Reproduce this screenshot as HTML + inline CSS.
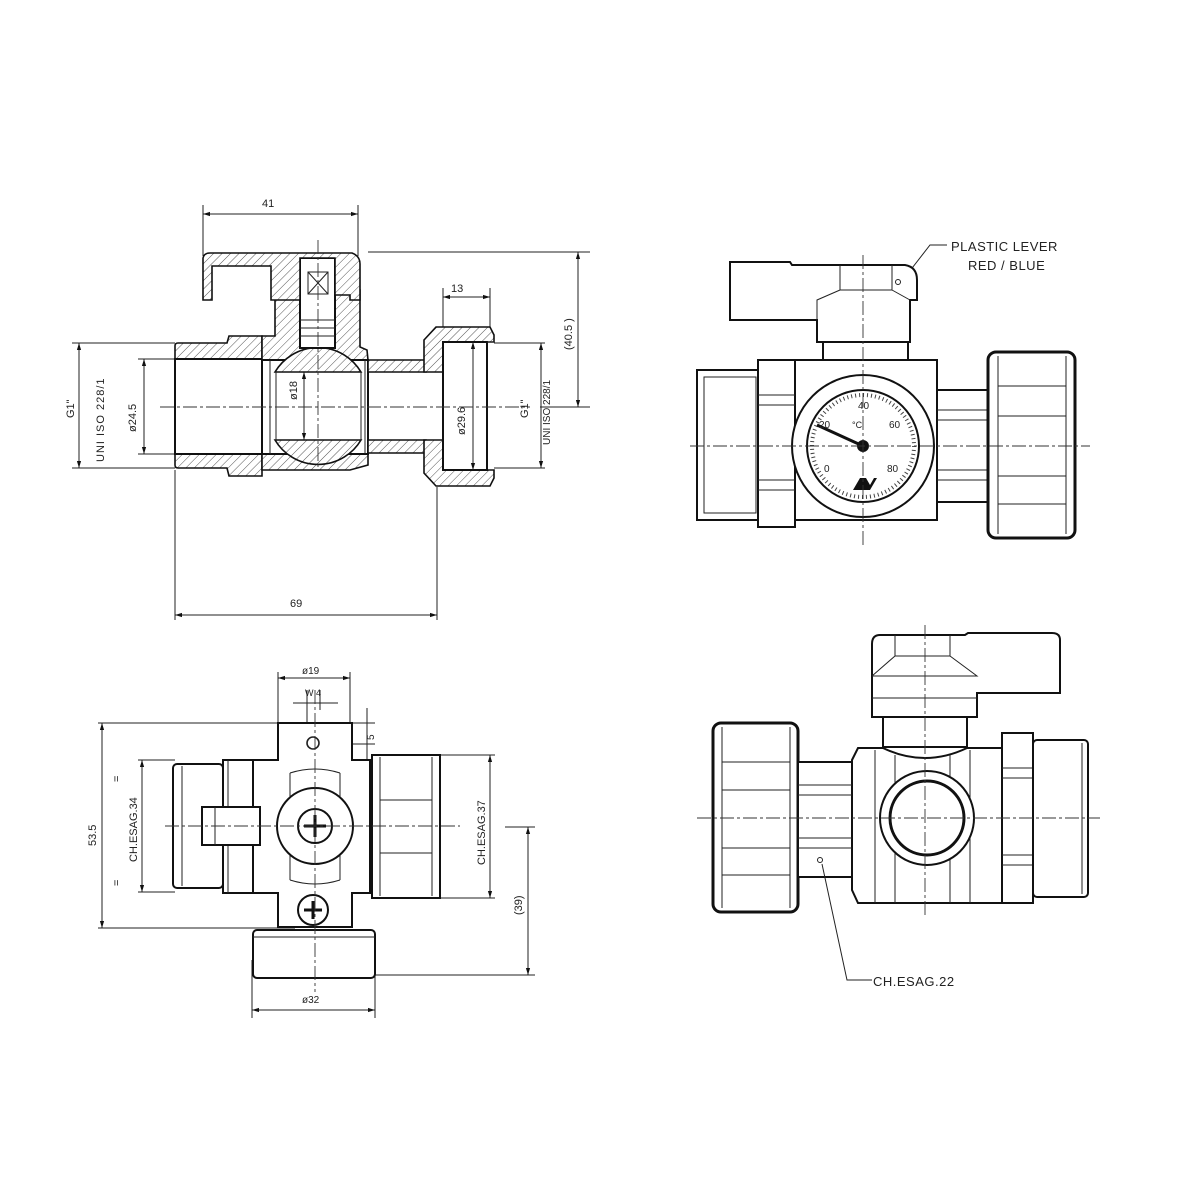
<!DOCTYPE html>
<html><head><meta charset="utf-8"><style>
html,body{margin:0;padding:0;background:#fff;}
svg{display:block}
text{font-family:"Liberation Sans",sans-serif;font-size:11px;fill:#222}
.o{fill:#fff;stroke:#111;stroke-width:2}
.t{fill:none;stroke:#222;stroke-width:1}
.c{fill:none;stroke:#333;stroke-width:0.9;stroke-dasharray:14 3 3 3}
.h{fill:url(#hat);stroke:#111;stroke-width:1.6}
</style></head><body>
<svg width="1198" height="1198" viewBox="0 0 1198 1198" xmlns="http://www.w3.org/2000/svg">
<defs>
<pattern id="hat" width="6" height="6" patternUnits="userSpaceOnUse" patternTransform="rotate(45)">
<rect width="6" height="6" fill="#fff"/><line x1="0" y1="0" x2="0" y2="6" stroke="#555" stroke-width="1"/></pattern>
<marker id="a" viewBox="0 0 10 10" refX="10" refY="5" markerWidth="7" markerHeight="7" orient="auto-start-reverse"><path d="M0,2 L10,5 L0,8z" fill="#111"/></marker>
</defs>

<!-- ================= VIEW 1 (section) ================= -->
<g>
<!-- dims -->
<line class="t" x1="203" y1="205" x2="203" y2="256"/><line class="t" x1="358" y1="205" x2="358" y2="256"/>
<line class="t" x1="203" y1="214" x2="358" y2="214" marker-start="url(#a)" marker-end="url(#a)"/>
<text x="262" y="207">41</text>
<line class="t" x1="368" y1="252" x2="590" y2="252"/><line class="t" x1="540" y1="407" x2="590" y2="407"/>
<line class="t" x1="578" y1="252" x2="578" y2="407" marker-start="url(#a)" marker-end="url(#a)"/>
<text transform="translate(572,350) rotate(-90)">(40.5  )</text>
<line class="t" x1="443" y1="288" x2="443" y2="340"/><line class="t" x1="490" y1="288" x2="490" y2="340"/>
<line class="t" x1="443" y1="297" x2="490" y2="297" marker-start="url(#a)" marker-end="url(#a)"/>
<text x="451" y="292">13</text>
<line class="t" x1="72" y1="343" x2="175" y2="343"/><line class="t" x1="72" y1="468" x2="175" y2="468"/>
<line class="t" x1="79" y1="343" x2="79" y2="468" marker-start="url(#a)" marker-end="url(#a)"/>
<text transform="translate(74,418) rotate(-90)">G1"</text>
<text transform="translate(104,462) rotate(-90)" style="letter-spacing:1px">UNI  ISO  228/1</text>
<line class="t" x1="138" y1="359" x2="175" y2="359"/><line class="t" x1="138" y1="454" x2="175" y2="454"/>
<line class="t" x1="144" y1="359" x2="144" y2="454" marker-start="url(#a)" marker-end="url(#a)"/>
<text transform="translate(136,432) rotate(-90)">ø24.5</text>
<line class="t" x1="494" y1="343" x2="545" y2="343"/><line class="t" x1="494" y1="468" x2="545" y2="468"/>
<line class="t" x1="541" y1="343" x2="541" y2="468" marker-start="url(#a)" marker-end="url(#a)"/>
<text transform="translate(528,418) rotate(-90)">G1"</text>
<text transform="translate(550,445) rotate(-90)" style="font-size:10px">UNI ISO 228/1</text>
<line class="t" x1="175" y1="470" x2="175" y2="620"/><line class="t" x1="437" y1="487" x2="437" y2="620"/>
<line class="t" x1="175" y1="615" x2="437" y2="615" marker-start="url(#a)" marker-end="url(#a)"/>
<text x="290" y="607">69</text>

<!-- left fitting -->
<path class="h" d="M175,346 Q175,343 178,343 L227,343 L229,336 L262,336 L262,359 L175,359Z"/>
<path class="h" d="M175,454 L262,454 L262,476 L229,476 L227,468 L178,468 Q175,468 175,465Z"/>
<rect class="o" x="175" y="359" width="87" height="95" style="fill:#fff"/>
<!-- body center -->
<path class="h" d="M262,336 L275,336 L275,290 L300,290 L300,347 L335,347 L335,290 L360,290 L360,347 L367,350 L368,360 L262,360Z"/>
<path class="h" d="M262,454 L368,454 L368,465 L350,470 L262,470Z"/>
<rect class="o" x="262" y="360" width="106" height="94"/>
<line class="t" x1="270" y1="360" x2="270" y2="454"/><line class="t" x1="365" y1="360" x2="365" y2="454"/>
<path class="h" d="M275,372 A50,50 0 0 1 361,372 Z"/>
<path class="h" d="M275,440 A50,50 0 0 0 361,440 Z"/>
<line class="t" x1="276" y1="372" x2="276" y2="440"/><line class="t" x1="361" y1="372" x2="361" y2="440"/>
<!-- stem -->
<rect class="o" x="300" y="258" width="35" height="90"/>
<line class="t" x1="300" y1="320" x2="335" y2="320"/><line class="t" x1="300" y1="328" x2="335" y2="328"/><line class="t" x1="300" y1="336" x2="335" y2="336"/>
<rect class="t" x="308" y="272" width="20" height="22"/><line class="t" x1="308" y1="272" x2="328" y2="294"/><line class="t" x1="328" y1="272" x2="308" y2="294"/>
<!-- lever -->
<path class="h" d="M203,300 L203,258 Q204,253 210,253 L352,253 Q360,256 360,264 L360,300 L350,300 L350,295 L335,295 L335,258 L300,258 L300,300 L271,300 L271,266 L212,266 L212,300Z"/>
<!-- right pipe -->
<path class="h" d="M368,360 L426,360 L426,372 L368,372Z"/>
<path class="h" d="M368,440 L426,440 L426,453 L368,453Z"/>
<!-- right nut -->
<path class="h" d="M424,340 L436,327 L490,327 L494,335 L494,342 L443,342 L443,372 L424,372Z"/>
<path class="h" d="M424,440 L443,440 L443,470 L494,470 L494,478 L490,486 L436,486 L424,473Z"/>
<rect class="o" x="443" y="342" width="44" height="128"/>
<line class="t" x1="487" y1="342" x2="494" y2="342"/>
<line class="t" x1="473" y1="342" x2="473" y2="470" marker-start="url(#a)" marker-end="url(#a)"/>
<text transform="translate(465,435) rotate(-90)">ø29.6</text>
<line class="t" x1="304" y1="372" x2="304" y2="440" marker-start="url(#a)" marker-end="url(#a)"/>
<text transform="translate(297,400) rotate(-90)">ø18</text>
<line class="c" x1="160" y1="407" x2="530" y2="407"/>
<line class="c" x1="318" y1="240" x2="318" y2="470"/>
</g>

<!-- ================= VIEW 2 ================= -->
<g>
<polyline class="t" points="947,245 930,245 902,281"/>
<text x="951" y="251" style="font-size:13px;letter-spacing:0.5px">PLASTIC LEVER</text>
<text x="968" y="270" style="font-size:13px;letter-spacing:0.5px">RED / BLUE</text>
<path class="o" d="M730,320 L730,262 L790,262 L792,265 L905,265 Q917,267 917,280 L917,300 L910,300 L910,342 L817,342 L817,320Z"/>
<path class="t" d="M840,265 L840,290 L892,290 L892,265 M817,320 L817,300 L840,290 M892,290 L910,300"/>
<circle class="t" cx="898" cy="282" r="2.5"/>
<rect class="o" x="823" y="342" width="85" height="26"/>
<rect class="o" x="793" y="360" width="144" height="160"/>
<!-- left fitting -->
<rect class="o" x="697" y="370" width="61" height="150"/>
<rect class="t" x="704" y="377" width="52" height="136"/>
<rect class="o" x="758" y="360" width="37" height="167"/>
<line class="t" x1="758" y1="395" x2="795" y2="395"/><line class="t" x1="758" y1="405" x2="795" y2="405"/>
<line class="t" x1="758" y1="480" x2="795" y2="480"/><line class="t" x1="758" y1="490" x2="795" y2="490"/>
<!-- right pipe & nut -->
<rect class="o" x="937" y="390" width="55" height="112"/>
<line class="t" x1="937" y1="410" x2="992" y2="410"/><line class="t" x1="937" y1="420" x2="992" y2="420"/>
<line class="t" x1="937" y1="470" x2="992" y2="470"/><line class="t" x1="937" y1="480" x2="992" y2="480"/>
<rect class="o" x="988" y="352" width="87" height="186" rx="8" style="stroke-width:3"/>
<line class="t" x1="998" y1="356" x2="998" y2="534"/><line class="t" x1="1066" y1="356" x2="1066" y2="534"/>
<line class="t" x1="998" y1="386" x2="1066" y2="386"/><line class="t" x1="998" y1="416" x2="1066" y2="416"/>
<line class="t" x1="998" y1="476" x2="1066" y2="476"/><line class="t" x1="998" y1="504" x2="1066" y2="504"/>
<!-- gauge -->
<circle class="o" cx="863" cy="446" r="71"/>
<circle class="o" cx="863" cy="446" r="56"/>
<circle cx="863" cy="446" r="51" fill="none" stroke="#444" stroke-width="4" stroke-dasharray="1 3"/>
<line x1="863" y1="446" x2="817" y2="425" stroke="#111" stroke-width="3"/>
<circle cx="863" cy="446" r="6" fill="#111"/>
<text x="858" y="409" style="font-size:10px">40</text>
<text x="819" y="428" style="font-size:10px">20</text>
<text x="852" y="428" style="font-size:9px">°C</text>
<text x="889" y="428" style="font-size:10px">60</text>
<text x="824" y="472" style="font-size:10px">0</text>
<text x="887" y="472" style="font-size:10px">80</text>
<path d="M853,490 L860,478 L866,478 L870,485 L874,478 L877,478 L870,490 Z" fill="#111"/>
<line class="c" x1="690" y1="446" x2="1090" y2="446"/>
<line class="c" x1="863" y1="255" x2="863" y2="545"/>
</g>

<!-- ================= VIEW 3 ================= -->
<g>
<line class="t" x1="278" y1="672" x2="278" y2="725"/><line class="t" x1="350" y1="672" x2="350" y2="725"/>
<line class="t" x1="278" y1="678" x2="350" y2="678" marker-start="url(#a)" marker-end="url(#a)"/>
<text x="302" y="674" style="font-size:10px">ø19</text>
<line class="t" x1="293" y1="703" x2="338" y2="703"/>
<line class="t" x1="307" y1="690" x2="307" y2="750"/><line class="t" x1="320" y1="690" x2="320" y2="710"/>
<text x="305" y="696" style="font-size:9px">W 4</text>
<line class="t" x1="340" y1="723" x2="375" y2="723"/><line class="t" x1="340" y1="744" x2="375" y2="744"/>
<line class="t" x1="367" y1="708" x2="367" y2="760"/>
<text transform="translate(374,740) rotate(-90)" style="font-size:10px">5</text>
<line class="t" x1="98" y1="723" x2="280" y2="723"/><line class="t" x1="98" y1="928" x2="295" y2="928"/>
<line class="t" x1="102" y1="723" x2="102" y2="928" marker-start="url(#a)" marker-end="url(#a)"/>
<text transform="translate(96,846) rotate(-90)">53.5</text>
<text transform="translate(120,782) rotate(-90)">=</text>
<text transform="translate(120,886) rotate(-90)">=</text>
<line class="t" x1="138" y1="760" x2="175" y2="760"/><line class="t" x1="138" y1="892" x2="175" y2="892"/>
<line class="t" x1="142" y1="760" x2="142" y2="892" marker-start="url(#a)" marker-end="url(#a)"/>
<text transform="translate(137,862) rotate(-90)">CH.ESAG.34</text>
<line class="t" x1="440" y1="755" x2="495" y2="755"/><line class="t" x1="440" y1="898" x2="495" y2="898"/>
<line class="t" x1="490" y1="755" x2="490" y2="898" marker-start="url(#a)" marker-end="url(#a)"/>
<text transform="translate(485,865) rotate(-90)">CH.ESAG.37</text>
<line class="t" x1="505" y1="827" x2="535" y2="827"/><line class="t" x1="375" y1="975" x2="535" y2="975"/>
<line class="t" x1="528" y1="827" x2="528" y2="975" marker-start="url(#a)" marker-end="url(#a)"/>
<text transform="translate(522,915) rotate(-90)">(39)</text>
<line class="t" x1="252" y1="960" x2="252" y2="1018"/><line class="t" x1="375" y1="960" x2="375" y2="1018"/>
<line class="t" x1="252" y1="1010" x2="375" y2="1010" marker-start="url(#a)" marker-end="url(#a)"/>
<text x="302" y="1003" style="font-size:10px">ø32</text>

<path class="o" d="M253,760 L278,760 L278,723 L352,723 L352,760 L370,760 L370,893 L352,893 L352,927 L278,927 L278,893 L253,893Z"/>
<rect class="o" x="173" y="764" width="50" height="124" rx="4"/>
<line class="t" x1="182" y1="766" x2="182" y2="886"/>
<rect class="o" x="223" y="760" width="30" height="133"/>
<line class="t" x1="228" y1="760" x2="228" y2="893"/>
<path class="t" d="M290,773 Q315,765 340,773 M290,880 Q315,888 340,880"/>
<line class="t" x1="290" y1="773" x2="290" y2="880"/><line class="t" x1="340" y1="773" x2="340" y2="880"/>
<circle class="t" cx="313" cy="743" r="6" style="stroke-width:1.6"/>
<circle class="o" cx="315" cy="826" r="38"/>
<rect class="o" x="202" y="807" width="58" height="38"/>
<line class="t" x1="215" y1="807" x2="215" y2="845"/>
<circle class="o" cx="315" cy="826" r="17"/>
<path d="M315,815 L315,837 M304,826 L326,826" stroke="#111" stroke-width="3"/>
<circle class="o" cx="313" cy="910" r="15"/>
<path d="M313,901 L313,919 M304,910 L322,910" stroke="#111" stroke-width="3"/>
<rect class="o" x="372" y="755" width="68" height="143"/>
<line class="t" x1="380" y1="757" x2="380" y2="896"/><line class="t" x1="432" y1="757" x2="432" y2="896"/>
<line class="t" x1="380" y1="800" x2="432" y2="800"/><line class="t" x1="380" y1="853" x2="432" y2="853"/>
<rect class="o" x="253" y="930" width="122" height="48" rx="4"/>
<line class="t" x1="253" y1="937" x2="375" y2="937"/>
<line class="c" x1="165" y1="826" x2="460" y2="826"/>
<line class="c" x1="315" y1="690" x2="315" y2="992"/>
</g>

<!-- ================= VIEW 4 ================= -->
<g>
<path class="o" d="M872,717 L872,644 Q872,635 880,635 L965,635 L968,633 L1052,633 Q1060,633 1060,640 L1060,693 L977,693 L977,717Z"/>
<path class="t" d="M895,635 L895,656 L950,656 L950,635 M872,676 L895,656 M950,656 L977,676 L872,676 M872,698 L977,698"/>
<rect class="o" x="883" y="717" width="84" height="30"/>
<path class="o" d="M852,760 L858,748 L883,748 Q925,768 967,748 L1002,748 L1002,903 L858,903 L852,890Z"/>
<line class="t" x1="875" y1="750" x2="875" y2="903"/><line class="t" x1="895" y1="755" x2="895" y2="903"/>
<line class="t" x1="950" y1="755" x2="950" y2="903"/><line class="t" x1="970" y1="750" x2="970" y2="903"/>
<circle class="o" cx="927" cy="818" r="47"/>
<circle class="o" cx="927" cy="818" r="37" style="stroke-width:3"/>
<rect class="o" x="713" y="723" width="85" height="189" rx="8" style="stroke-width:3"/>
<line class="t" x1="722" y1="727" x2="722" y2="908"/><line class="t" x1="790" y1="727" x2="790" y2="908"/>
<line class="t" x1="722" y1="762" x2="790" y2="762"/><line class="t" x1="722" y1="790" x2="790" y2="790"/>
<line class="t" x1="722" y1="848" x2="790" y2="848"/><line class="t" x1="722" y1="875" x2="790" y2="875"/>
<rect class="o" x="798" y="762" width="54" height="115"/>
<line class="t" x1="798" y1="785" x2="852" y2="785"/><line class="t" x1="798" y1="795" x2="852" y2="795"/>
<line class="t" x1="798" y1="838" x2="852" y2="838"/><line class="t" x1="798" y1="848" x2="852" y2="848"/>
<rect class="o" x="1002" y="733" width="31" height="170"/>
<line class="t" x1="1002" y1="768" x2="1033" y2="768"/><line class="t" x1="1002" y1="778" x2="1033" y2="778"/>
<line class="t" x1="1002" y1="855" x2="1033" y2="855"/><line class="t" x1="1002" y1="865" x2="1033" y2="865"/>
<rect class="o" x="1033" y="740" width="55" height="157" rx="4"/>
<line class="t" x1="1082" y1="743" x2="1082" y2="894"/>
<circle class="t" cx="820" cy="860" r="2.5"/>
<polyline class="t" points="822,864 847,980 872,980"/>
<text x="873" y="986" style="font-size:13px;letter-spacing:0.5px">CH.ESAG.22</text>
<line class="c" x1="697" y1="818" x2="1100" y2="818"/>
<line class="c" x1="925" y1="625" x2="925" y2="918"/>
</g>
</svg>
</body></html>
